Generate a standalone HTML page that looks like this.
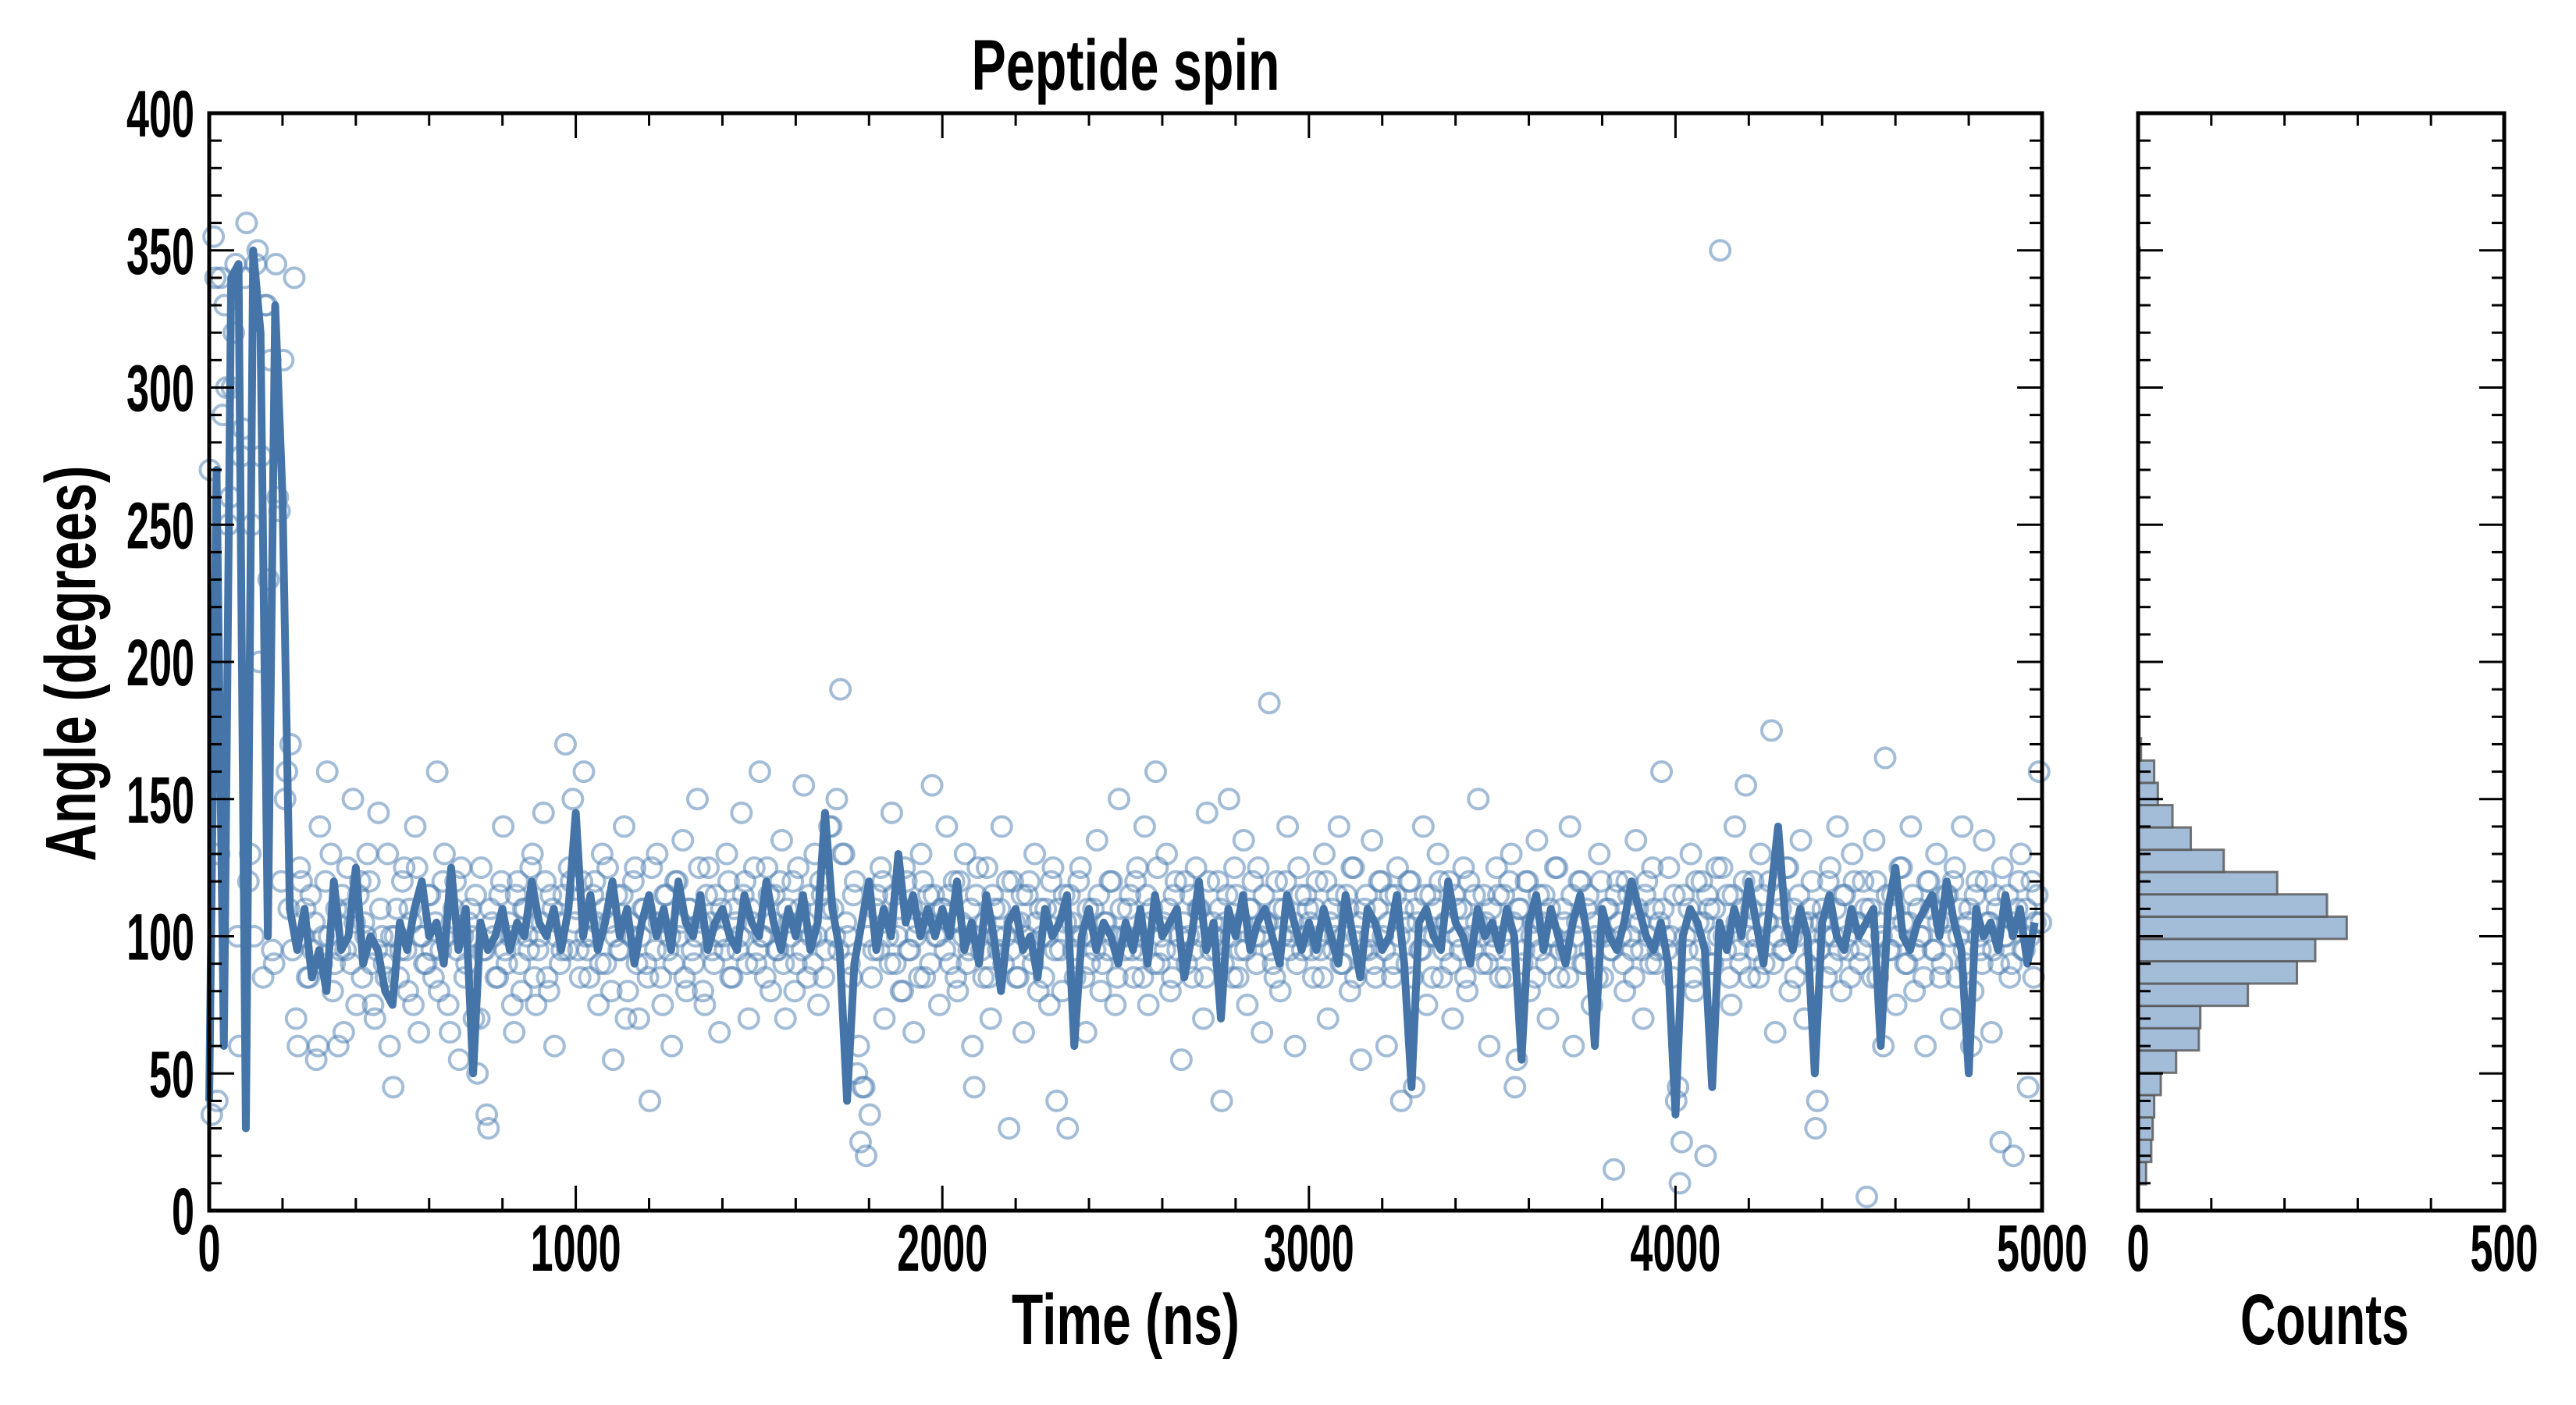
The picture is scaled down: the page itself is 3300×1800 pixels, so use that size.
<!DOCTYPE html>
<html><head><meta charset="utf-8"><style>
html,body{margin:0;padding:0;background:#fff;}
svg{display:block;}
text{font-family:"Liberation Sans Narrow","Liberation Sans",sans-serif;font-weight:bold;fill:#000;}
</style></head>
<body>
<svg id="chart" width="3300" height="1800" viewBox="0 0 3300 1800" xmlns="http://www.w3.org/2000/svg">
<rect width="3300" height="1800" fill="#fff"/>
<text x="1442" y="115" font-size="92" text-anchor="middle" textLength="395" lengthAdjust="spacingAndGlyphs">Peptide spin</text>
<text x="1442" y="1722" font-size="92" text-anchor="middle" textLength="292" lengthAdjust="spacingAndGlyphs">Time (ns)</text>
<text x="2978" y="1722" font-size="92" text-anchor="middle" textLength="216" lengthAdjust="spacingAndGlyphs">Counts</text>
<text transform="translate(122,850) rotate(-90)" x="0" y="0" font-size="92" text-anchor="middle" textLength="507" lengthAdjust="spacingAndGlyphs">Angle (degrees)</text>
<g id="main"></g>
<g id="hist"></g>
</svg>
<script>
// ---- data ----
const scatterStep = 10; // ns between scatter samples
const scatterAngles = [
270,355,40,340,330,250,300,345,60,285,360,130,100,350,275,330,230,95,345,255,310,160,170,340,60,120,110,85,95,55,140,100,160,130,90,60,115,95,110,150,75,120,105,130,90,70,145,100,85,60,
45,110,95,125,80,105,140,65,100,90,115,85,160,95,130,75,105,120,55,100,90,110,70,50,125,95,30,105,85,115,140,90,100,65,120,80,110,95,130,75,100,145,85,115,60,105,95,170,125,150,
110,85,160,95,100,120,75,130,90,105,55,115,95,140,80,100,125,70,110,90,40,105,130,85,115,95,60,120,100,135,80,110,90,150,105,75,125,95,115,65,100,130,85,110,95,145,120,70,105,90,
160,100,125,80,115,95,135,70,105,120,90,110,155,85,100,130,75,115,95,140,110,150,190,130,100,85,120,60,45,20,35,95,115,125,70,100,145,90,110,80,120,95,65,105,130,85,115,155,100,75,
110,140,90,120,80,105,130,95,60,115,100,85,125,70,110,95,140,100,30,120,85,105,65,115,95,130,80,100,110,75,125,40,95,115,30,105,85,120,100,65,90,110,135,80,105,95,120,75,150,100,
100,115,85,125,95,140,75,110,160,90,105,130,80,115,95,55,120,100,85,125,110,70,145,95,100,120,40,105,150,85,115,95,135,75,110,100,125,65,105,185,90,120,80,110,140,100,60,125,95,115,
105,85,120,95,130,70,110,100,140,90,115,80,125,100,55,110,95,135,85,120,100,60,115,90,125,40,105,120,85,110,95,140,75,115,100,130,85,105,120,70,110,95,125,80,100,115,150,90,105,60,
100,125,85,115,95,130,45,110,90,120,80,105,135,95,115,70,100,125,85,110,95,140,60,105,120,90,115,75,100,130,85,110,95,15,120,100,80,115,95,135,105,70,120,90,110,95,160,100,125,85,
40,10,115,95,130,80,105,120,20,110,90,125,350,100,115,75,140,95,110,155,85,120,100,130,90,105,175,65,115,95,125,80,110,100,135,70,105,120,30,95,110,85,125,100,140,80,115,95,130,105,
90,120,5,110,135,85,100,165,95,115,75,125,105,90,140,80,110,100,60,120,95,130,85,105,115,70,125,100,140,90,110,80,120,95,135,105,65,115,90,125,100,85,20,110,130,95,45,120,105,160
];
// second interleaved sample set (offset by half a step)
const scatterAngles2 = [
35,340,130,290,300,260,320,100,275,340,120,250,345,200,85,330,310,90,260,120,150,110,95,70,125,100,85,115,105,60,90,120,100,80,110,95,65,125,90,105,115,85,100,120,75,95,110,90,130,100,
100,85,120,95,110,75,125,100,90,115,95,105,80,120,100,65,110,95,125,85,105,100,115,70,95,35,110,100,85,120,95,105,75,115,90,110,100,125,85,95,105,120,80,110,100,90,115,95,120,105,
95,120,100,85,115,105,90,110,125,80,100,95,115,70,105,120,90,100,110,85,125,95,105,75,115,100,90,120,105,85,110,95,100,125,80,115,105,90,100,110,95,120,85,105,100,115,90,110,125,95,
100,85,115,105,95,120,90,110,100,80,125,95,105,115,90,100,120,85,110,140,100,95,130,105,90,115,50,25,45,100,85,110,95,120,105,90,115,100,80,125,95,110,100,85,120,105,90,115,100,110,
95,115,105,85,120,100,90,110,45,125,95,105,85,115,100,110,90,120,95,105,85,115,100,120,90,105,110,85,100,120,95,110,80,105,115,95,100,125,85,110,100,95,115,90,105,120,100,85,110,95,
110,95,120,100,85,115,105,90,125,100,95,110,85,120,100,105,90,115,95,110,100,85,120,105,95,110,90,115,100,125,85,105,95,110,120,90,100,115,105,95,85,110,100,120,95,105,90,115,100,110,
95,110,100,85,120,105,95,115,90,100,110,125,85,105,95,115,100,90,110,120,95,105,85,115,100,110,90,120,45,105,95,115,100,85,110,120,95,105,90,115,100,110,85,120,95,105,100,115,90,110,
95,115,100,85,120,105,55,110,95,120,100,85,115,105,90,110,100,125,95,105,85,115,100,120,90,110,95,105,85,120,100,110,95,115,105,90,120,100,85,110,95,115,100,125,90,105,110,95,100,115,
45,25,100,110,85,120,95,105,115,90,110,100,125,95,85,115,105,90,120,100,110,95,85,115,105,120,90,100,110,95,125,100,85,115,105,90,110,95,40,105,100,120,90,110,95,115,100,85,120,105,
95,110,100,85,120,105,60,115,95,110,100,125,90,105,115,95,100,85,120,110,95,105,90,115,100,120,85,110,95,105,60,115,100,90,120,105,95,110,25,100,115,90,105,120,95,110,100,85,115,105
];
const lineStep = 20; // ns between smoothed samples
const lineAngles = [
40,270,60,340,345,30,350,320,100,330,260,110,95,110,85,95,80,120,95,100,125,90,100,95,80,
75,105,95,110,120,100,105,90,125,95,110,50,105,95,100,110,95,105,100,120,105,100,110,95,110,
145,100,115,95,105,120,100,110,90,105,115,100,110,95,120,105,100,115,95,105,110,100,95,115,105,
100,120,105,95,110,100,115,95,105,145,110,95,40,90,105,120,95,110,100,130,105,115,100,110,100,
110,100,120,95,105,90,115,100,80,105,110,95,100,85,110,100,105,115,60,100,110,95,105,100,90,
105,95,110,90,115,100,105,110,85,100,120,95,105,70,110,100,115,95,105,110,100,90,115,105,95,
105,95,110,100,90,115,100,85,110,105,95,100,115,90,45,105,110,100,95,120,105,100,90,110,100,
105,95,110,100,55,105,115,95,110,100,90,105,115,100,60,110,100,95,105,120,110,100,95,105,90,
35,100,110,105,95,45,105,95,110,100,120,105,90,115,140,105,95,110,100,50,105,115,100,95,110,
100,105,110,60,110,125,100,95,105,110,115,100,120,105,95,50,110,100,105,95,115,100,110,90,105
];
const binStart = 9.6, binWidth = 8.13;
const binCounts = [11,18,20,22,31,52,83,85,150,217,242,285,258,190,117,72,47,27,22,4,2,1,1,0,0,0,0,0,0,0,1,1,0,0,0,0,0,0,0,1,1,2,1];
const xTicks = [0,1000,2000,3000,4000,5000];
const yTicks = [0,50,100,150,200,250,300,350,400];
const countTicks = [0,500];

// ---- geometry ----
const L=268,R=2616,T=145,B=1551,HL=2739,HR=3208;
const NS='http://www.w3.org/2000/svg';
const xS = t => L + t/5000*(R-L);
const yS = a => B - a/400*(B-T);
const cS = c => HL + c/500*(HR-HL);
function mk(tag, attrs, parent){const e=document.createElementNS(NS,tag);for(const k in attrs)e.setAttribute(k,attrs[k]);parent.appendChild(e);return e;}
const main=document.getElementById('main'), hist=document.getElementById('hist');

// scatter
const sg=mk('g',{},main);


function drawScatter(arr, offset){
  arr.forEach((a,i)=>{
    const c=mk('circle',{cx:xS(i*scatterStep+offset),cy:yS(a),r:12.5,fill:'none',stroke:'#4a7bb0','stroke-width':4,'stroke-opacity':0.5},sg);
    
    
  });
}
drawScatter(scatterAngles, 2);
drawScatter(scatterAngles2, 7);
// line
const pts=lineAngles.map((a,i)=>xS(i*lineStep)+','+yS(a)).join(' ');
const pl=mk('polyline',{points:pts,fill:'none',stroke:'#4575a8','stroke-width':10,'stroke-linejoin':'round'},main);



// histogram
binCounts.forEach((c,i)=>{
  if(c<=0) return;
  const y1=yS(binStart+(i+1)*binWidth), y0=yS(binStart+i*binWidth);
  const r=mk('rect',{x:HL,y:y1,width:cS(c)-HL,height:y0-y1,fill:'#a3bcd8',stroke:'#555','stroke-width':3,'stroke-opacity':0.8},hist);
  
  
});

// axes frames & ticks
function frame(x0,x1,name){
  const f=mk('rect',{x:x0,y:T,width:x1-x0,height:B-T,fill:'none',stroke:'#000','stroke-width':5},document.getElementById('chart'));
  
  
}
frame(L,R,'main-plot-frame');
frame(HL,HR,'hist-plot-frame');
const tg=mk('g',{stroke:'#000','stroke-width':3},document.getElementById('chart'));
for(let a=0;a<=400;a+=10){
  const len=(a%50===0)?32:16, y=yS(a);
  [[L,1],[R,-1],[HL,1],[HR,-1]].forEach(([x,d])=>mk('line',{x1:x,y1:y,x2:x+d*len,y2:y},tg));
}
for(let t=0;t<=5000;t+=200){
  const len=(t%1000===0)?32:16, x=xS(t);
  mk('line',{x1:x,y1:B,x2:x,y2:B-len},tg); mk('line',{x1:x,y1:T,x2:x,y2:T+len},tg);
}
for(let c=0;c<=500;c+=100){
  const len=(c%500===0)?32:16, x=cS(c);
  mk('line',{x1:x,y1:B,x2:x,y2:B-len},tg); mk('line',{x1:x,y1:T,x2:x,y2:T+len},tg);
}
const svg=document.getElementById('chart');
yTicks.forEach(v=>{
  const s=String(v);
  const t=mk('text',{x:249,y:yS(v)+30,'font-size':84,'text-anchor':'end',textLength:29*s.length,lengthAdjust:'spacingAndGlyphs'},svg);
  t.textContent=s;
  
  
});
xTicks.forEach(v=>{
  const s=String(v);
  const t=mk('text',{x:xS(v),y:1628,'font-size':84,'text-anchor':'middle',textLength:29*s.length,lengthAdjust:'spacingAndGlyphs'},svg);
  t.textContent=s;
  
  
});
countTicks.forEach(v=>{
  const s=String(v);
  const t=mk('text',{x:cS(v),y:1628,'font-size':84,'text-anchor':'middle',textLength:29*s.length,lengthAdjust:'spacingAndGlyphs'},svg);
  t.textContent=s;
  
  
});
</script>
</body></html>
